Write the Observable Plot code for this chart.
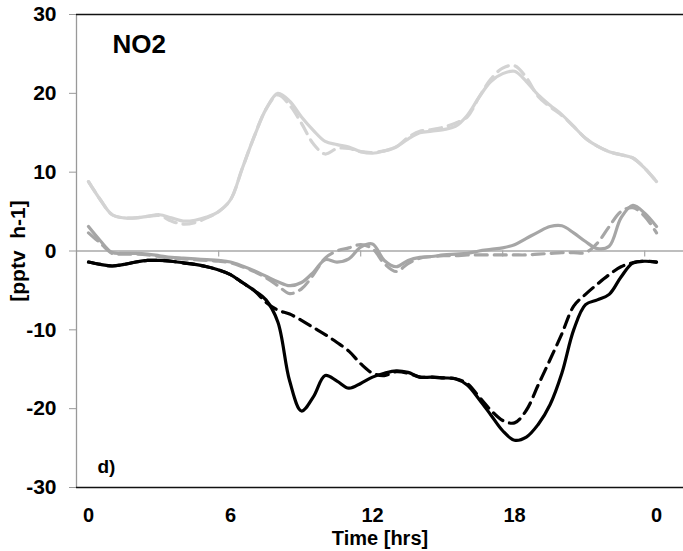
<!DOCTYPE html>
<html>
<head>
<meta charset="utf-8">
<script src="https://cdn.jsdelivr.net/npm/d3@7"></script>
<script src="https://cdn.jsdelivr.net/npm/@observablehq/plot@0.6"></script>
<style>
  html, body { margin: 0; padding: 0; background: #fff; }
  #chart svg { display: block; font-family: "Liberation Sans", Arial, sans-serif; }
</style>
</head>
<body>
<div id="chart"></div>
<script>
const hours = [0,0.5,1,1.5,2,2.5,3,3.5,4,4.5,5,5.5,6,6.5,7,7.5,8,8.5,9,9.5,10,10.5,11,11.5,12,12.5,13,13.5,14,14.5,15,15.5,16,16.5,17,17.5,18,18.5,19,19.5,20,20.5,21,21.5,22,22.5,23,23.5,24];

const lightSolid = [8.8,6.5,4.6,4.2,4.2,4.4,4.6,4.2,3.8,3.9,4.3,5.0,6.5,10.5,14.5,18.0,20.0,19.0,17.0,15.3,13.9,13.5,13.2,12.6,12.4,12.7,13.2,14.2,15.0,15.2,15.4,15.8,17.2,19.5,21.5,22.5,22.8,21.5,19.8,18.5,17.3,15.8,14.3,13.3,12.6,12.2,11.8,10.5,8.8];
const lightDashed = [8.8,6.5,4.6,4.2,4.2,4.4,4.5,3.8,3.4,3.6,4.2,5.0,6.5,10.5,14.5,18.0,19.8,18.5,16.2,13.6,12.3,13.0,13.0,12.6,12.5,12.7,13.2,14.4,15.2,15.4,15.7,16.2,17.0,19.5,21.8,23.2,23.5,22.0,19.6,18.3,17.2,15.8,14.3,13.3,12.6,12.2,11.8,10.5,8.8];

const midSolid = [3.1,1.3,-0.2,-0.3,-0.3,-0.4,-0.6,-0.8,-0.9,-1.0,-1.1,-1.2,-1.4,-1.9,-2.5,-3.2,-3.9,-4.4,-4.0,-2.7,-1.1,-1.4,-1.0,0.5,0.9,-1.2,-2.0,-1.2,-0.8,-0.7,-0.5,-0.4,-0.3,0.0,0.2,0.4,0.8,1.6,2.4,3.1,3.2,2.3,1.2,0.3,0.6,4.2,5.8,4.8,3.1];
const midDashed = [2.3,1.0,-0.3,-0.4,-0.4,-0.5,-0.7,-0.9,-1.0,-1.1,-1.2,-1.3,-1.5,-2.0,-2.6,-3.4,-4.4,-5.4,-4.8,-3.0,-0.9,0.0,0.4,0.8,0.3,-1.6,-2.6,-1.6,-0.9,-0.7,-0.6,-0.6,-0.5,-0.5,-0.5,-0.5,-0.5,-0.5,-0.4,-0.3,-0.2,-0.2,-0.2,1.0,3.1,5.0,5.5,4.4,2.3];

const blackSolid = [-1.4,-1.7,-1.9,-1.7,-1.4,-1.2,-1.2,-1.3,-1.5,-1.7,-2.0,-2.4,-3.0,-4.0,-5.0,-6.2,-9.0,-16.5,-20.3,-18.5,-15.8,-16.5,-17.4,-16.8,-16.0,-15.5,-15.2,-15.4,-16.0,-16.0,-16.1,-16.2,-17.0,-18.8,-20.8,-22.8,-24.0,-23.6,-22.0,-19.5,-15.5,-10.0,-6.8,-6.2,-5.5,-3.3,-1.5,-1.3,-1.4];
const blackDashed = [-1.4,-1.7,-1.9,-1.7,-1.4,-1.2,-1.2,-1.3,-1.5,-1.7,-2.0,-2.4,-3.0,-4.0,-5.0,-6.5,-7.5,-8.0,-8.8,-9.7,-10.6,-11.6,-12.7,-14.3,-15.5,-15.8,-15.3,-15.5,-16.0,-16.0,-16.1,-16.2,-16.8,-18.5,-20.2,-21.5,-21.8,-20.2,-17.0,-13.8,-10.5,-7.0,-5.5,-4.2,-3.0,-2.0,-1.5,-1.3,-1.4];

const yTicks = [-30,-20,-10,0,10,20,30];
const xTicks = [0,6,12,18,24];
const xTickLabels = ["0","6","12","18","0"];
const xTickMarks = [5.5,11.5,17.5,23.5];

const toRows = (arr) => hours.map((h, i) => ({h, v: arr[i]}));

const font = { fontFamily: "'Liberation Sans', Arial, sans-serif", fontWeight: "bold" };

const chart = Plot.plot({
  width: 683,
  height: 551,
  marginLeft: 76,
  marginRight: 0,
  marginTop: 14,
  marginBottom: 64,
  style: { fontFamily: "'Liberation Sans', Arial, sans-serif", background: "#fff" },
  x: { domain: [-0.507, 25.14] },
  y: { domain: [-30, 30] },
  marks: [
    Plot.ruleY([0], { stroke: "#a8a8a8", strokeWidth: 1.3 }),
    Plot.ruleX(xTickMarks, { y1: 0, y2: -0.75, stroke: "#a8a8a8", strokeWidth: 1.2 }),
    Plot.ruleX([-0.507], { stroke: "#999", strokeWidth: 1.3 }),
    Plot.ruleY([30, -30], { stroke: "#111", strokeWidth: 1.6 }),
    Plot.axisY({ ticks: yTicks, tickFormat: (d) => String(d), tickSize: 7, tickPadding: 13, stroke: "#999", fontSize: 21, fontWeight: "bold", fill: "#000", label: null }),
    Plot.axisX({ ticks: xTicks, tickFormat: (d) => xTickLabels[xTicks.indexOf(d)], tickSize: 0, tickPadding: 20, fontSize: 20, fontWeight: "bold", fill: "#000", label: null }),
    Plot.line(toRows(lightSolid), { x: "h", y: "v", stroke: "#d3d3d3", strokeWidth: 3.2, curve: "catmull-rom" }),
    Plot.line(toRows(lightDashed), { x: "h", y: "v", stroke: "#d3d3d3", strokeWidth: 3.2, strokeDasharray: "12,7", curve: "catmull-rom" }),
    Plot.line(toRows(midSolid), { x: "h", y: "v", stroke: "#a6a6a6", strokeWidth: 3.2, curve: "catmull-rom" }),
    Plot.line(toRows(midDashed), { x: "h", y: "v", stroke: "#a6a6a6", strokeWidth: 3.2, strokeDasharray: "12,7", curve: "catmull-rom" }),
    Plot.line(toRows(blackSolid), { x: "h", y: "v", stroke: "#000", strokeWidth: 3.2, curve: "catmull-rom" }),
    Plot.line(toRows(blackDashed), { x: "h", y: "v", stroke: "#000", strokeWidth: 3.2, strokeDasharray: "12,7", curve: "catmull-rom" }),
    Plot.text(["NO2"], { frameAnchor: "top-left", dx: 36, dy: 20, lineAnchor: "top", textAnchor: "start", fontSize: 26, ...font, fill: "#000" }),
    Plot.text(["d)"], { frameAnchor: "bottom-left", dx: 21, dy: -15, lineAnchor: "bottom", textAnchor: "start", fontSize: 19, ...font, fill: "#000" }),
    Plot.text(["Time [hrs]"], { frameAnchor: "bottom", dy: 43, lineAnchor: "top", textAnchor: "middle", fontSize: 20, ...font, fill: "#000" }),
    Plot.text(["[pptv\u00a0 h-1]"], { frameAnchor: "left", dx: -58, rotate: -90, lineAnchor: "middle", textAnchor: "middle", fontSize: 21, ...font, fill: "#000" })
  ]
});
document.getElementById("chart").appendChild(chart);
</script>
</body>
</html>
